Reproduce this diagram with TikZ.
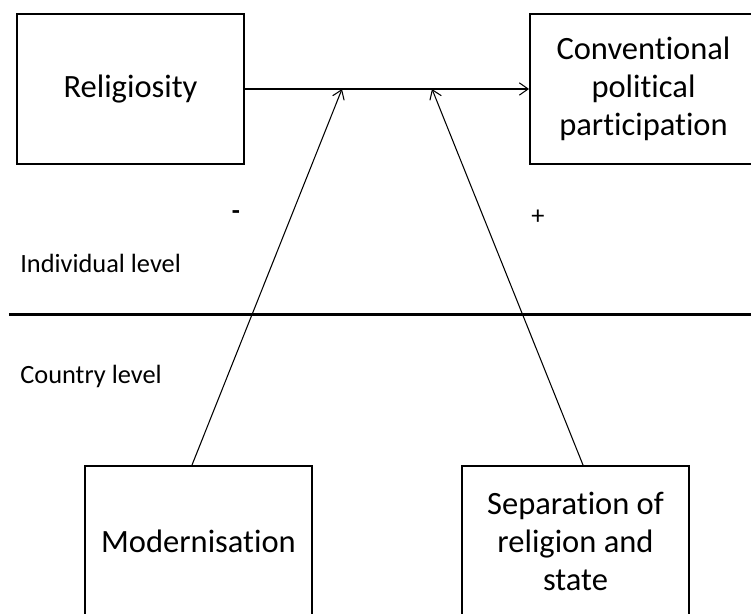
\documentclass[tikz,border=0pt]{standalone}
\usepackage{fontspec}
\setmainfont{Carlito}[Ligatures=NoCommon]
\usetikzlibrary{shapes,arrows.meta,shadows,positioning}

\begin{document}
\begin{tikzpicture}
	\tikzstyle{Box}		= [rectangle, draw, line width=1.1pt, fill=white, minimum width=4.54cm, minimum height=3cm, inner sep=0pt, align=center, font=\fontsize{18.5pt}{21.6pt}\selectfont, drop shadow={shadow xshift=0.8pt, shadow yshift=-0.8pt, opacity=0.3}]
	\tikzstyle{Level}	= [anchor=west, inner sep=0pt, font=\fontsize{15pt}{18pt}\selectfont]
	\tikzstyle{Sign}	= [inner sep=0pt, font=\fontsize{15pt}{18pt}\selectfont]
	\tikzstyle{Effect}	= [line width=0.6pt, -{Straight Barb[length=5pt, width=7pt]}]
	\tikzstyle{Divide}	= [line width=1.7pt]

	\useasboundingbox (0,0) rectangle (15.02,12.28);

	\node (rel) at (2.61, 10.5) [Box] {Religiosity};
	\node (con) at (12.87, 10.5) [Box] {Conventional\\political\\participation};
	\node (mod) at (3.97, 1.46) [Box] {Modernisation};
	\node (sep) at (11.51, 1.46) [Box] {Separation of\\religion and\\state};

	\coordinate (m1) at (6.84, 10.5);
	\coordinate (m2) at (8.64, 10.5);
	\coordinate (d1) at (0.18, 5.98);
	\coordinate (d2) at (15.1, 5.98);

	\node (neg) at (4.72, 7.98) [Sign] {\textbf{-}};
	\node (pos) at (10.76, 7.94) [Sign] {+};
	\node (ind) at (0.40, 7.02) [Level] {Individual level};
	\node (cty) at (0.40, 4.76) [Level] {Country level};

	\draw (rel) to (con) [Effect];
	\draw ([xshift=-0.13cm]mod.north) to (m1) [Effect];
	\draw ([xshift=0.15cm]sep.north) to (m2) [Effect];
	\draw (d1) to (d2) [Divide];
\end{tikzpicture}
\end{document}
